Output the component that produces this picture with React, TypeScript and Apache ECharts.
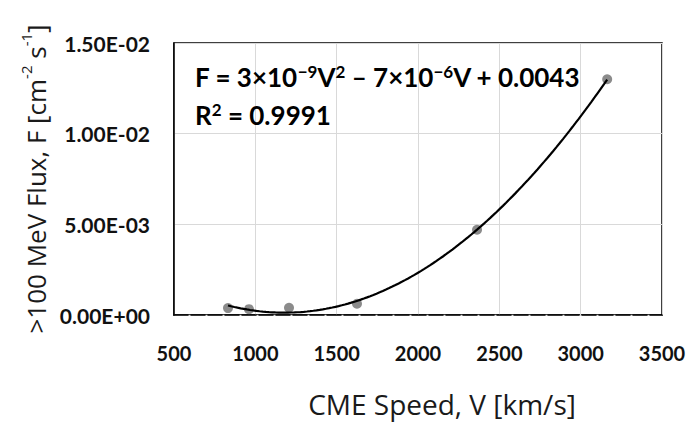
import React, { useEffect, useRef } from "react";
import * as echarts from "echarts";

// CME speed (km/s) and >100 MeV flux (cm^-2 s^-1)
const speeds: number[] = [832, 961, 1207, 1625, 2363, 3163];
const flux: number[] = [0.00038, 0.00032, 0.0004, 0.00062, 0.0047, 0.013];

const equationRich = "{b|F = 3×10}{s|−9}{b|V}{s|2}{b| – 7×10}{s|−6}{b|V + 0.0043}";
const r2Rich = "{b|R}{s|2}{b| = 0.9991}";
const xTitle = "CME Speed, V [km/s]";
const yTitleRich = "{a|>100 MeV Flux, F [cm}{s|-2}{a| s}{s|-1}{a|]}";

// least-squares quadratic fit (Excel polynomial trendline, order 2)
function quadFit(xs: number[], ys: number[]) {
  const s = 1000;
  const u = xs.map((x) => x / s);
  const S = [0, 0, 0, 0, 0];
  const T = [0, 0, 0];
  for (let i = 0; i < u.length; i++) {
    let p = 1;
    for (let k = 0; k < 5; k++) {
      S[k] += p;
      if (k < 3) T[k] += p * ys[i];
      p *= u[i];
    }
  }
  const A = [
    [S[0], S[1], S[2], T[0]],
    [S[1], S[2], S[3], T[1]],
    [S[2], S[3], S[4], T[2]],
  ];
  for (let c = 0; c < 3; c++) {
    for (let r = c + 1; r < 3; r++) {
      const f = A[r][c] / A[c][c];
      for (let k = c; k < 4; k++) A[r][k] -= f * A[c][k];
    }
  }
  const coef = [0, 0, 0];
  for (let r = 2; r >= 0; r--) {
    let v = A[r][3];
    for (let k = r + 1; k < 3; k++) v -= A[r][k] * coef[k];
    coef[r] = v / A[r][r];
  }
  return (x: number) => {
    const t = x / s;
    return coef[0] + coef[1] * t + coef[2] * t * t;
  };
}

function fmtExp(v: number): string {
  const [m, e] = v.toExponential(2).split("e");
  const n = parseInt(e, 10);
  return m + "E" + (n < 0 ? "-" : "+") + String(Math.abs(n)).padStart(2, "0");
}

export default function App() {
  const ref = useRef<HTMLDivElement>(null);
  useEffect(() => {
    if (!ref.current) return;
    const chart = echarts.init(ref.current, undefined, { renderer: "svg" });
    const f = quadFit(speeds, flux);
    const vMin = Math.min(...speeds);
    const vMax = Math.max(...speeds);
    const trend: number[][] = [];
    const steps = 120;
    for (let i = 0; i <= steps; i++) {
      const v = vMin + ((vMax - vMin) * i) / steps;
      trend.push([v, f(v)]);
    }
    const labelFont = "Lato, 'Open Sans', sans-serif";
    const eqRich = {
      b: {
        fontFamily: labelFont,
        fontWeight: "bold",
        fontSize: 26,
        color: "#111111",
        lineHeight: 27,
        verticalAlign: "bottom",
      },
      s: {
        fontFamily: labelFont,
        fontWeight: "bold",
        fontSize: 17,
        color: "#111111",
        lineHeight: 27,
        verticalAlign: "top",
      },
    };
    chart.setOption({
      animation: false,
      backgroundColor: "#ffffff",
      grid: {
        left: 174,
        right: 27,
        top: 43,
        bottom: 110,
        show: true,
        borderColor: "#000000",
        borderWidth: 1.5,
      },
      xAxis: {
        type: "value",
        min: 500,
        max: 3500,
        interval: 500,
        axisLine: { lineStyle: { color: "#000000", width: 1.5, type: [14, 3] } },
        axisTick: { show: false },
        axisLabel: {
          margin: 28,
          fontFamily: labelFont,
          fontWeight: "bold",
          fontSize: 20,
          color: "#111111",
          formatter: (v: number) => String(v),
        },
        splitLine: { show: true, lineStyle: { color: "#d9d9d9", width: 1 } },
      },
      yAxis: {
        type: "value",
        min: 0,
        max: 0.015,
        interval: 0.005,
        name: yTitleRich,
        nameLocation: "middle",
        nameRotate: 90,
        nameGap: 124,
        nameTextStyle: {
          rich: {
            a: {
              fontFamily: "'Open Sans', sans-serif",
              fontSize: 26,
              color: "#1a1a1a",
              lineHeight: 30,
              verticalAlign: "bottom",
            },
            s: {
              fontFamily: "'Open Sans', sans-serif",
              fontSize: 15,
              color: "#1a1a1a",
              lineHeight: 30,
              verticalAlign: "top",
            },
          },
        },
        axisLine: { show: true, lineStyle: { color: "#000000", width: 1.5 } },
        axisTick: { show: false },
        axisLabel: {
          margin: 24,
          fontFamily: labelFont,
          fontWeight: "bold",
          fontSize: 21,
          color: "#111111",
          formatter: (v: number) => fmtExp(v),
        },
        splitLine: { show: true, lineStyle: { color: "#d9d9d9", width: 1 } },
      },
      graphic: [
        {
          type: "text",
          x: 442,
          y: 404,
          style: {
            text: xTitle,
            fontFamily: "'Open Sans', sans-serif",
            fontSize: 28,
            fill: "#1a1a1a",
            align: "center",
            verticalAlign: "middle",
          },
        },
        {
          type: "text",
          left: 195,
          top: 63,
          z: 10,
          style: { text: equationRich, rich: eqRich },
        },
        {
          type: "text",
          left: 195,
          top: 101,
          z: 10,
          style: { text: r2Rich, rich: eqRich },
        },
      ],
      series: [
        {
          type: "scatter",
          data: speeds.map((v, i) => [v, flux[i]]),
          symbol: "circle",
          symbolSize: 10,
          itemStyle: { color: "#6e6e6e" },
          z: 2,
        },
        {
          type: "line",
          data: trend,
          showSymbol: false,
          symbol: "none",
          smooth: false,
          lineStyle: { color: "#000000", width: 2.2 },
          z: 3,
        },
      ],
    });
    return () => chart.dispose();
  }, []);
  return (
    <div
      ref={ref}
      style={{ position: "fixed", left: 0, top: 0, width: 689, height: 425 }}
    />
  );
}
